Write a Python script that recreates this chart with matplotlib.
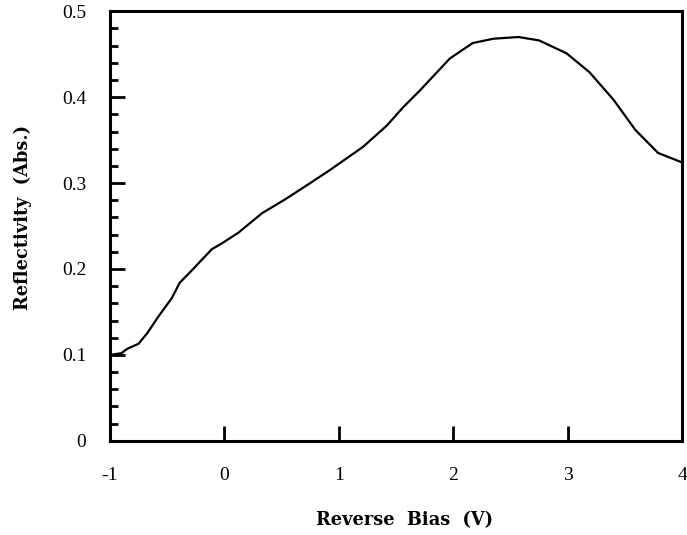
import numpy as np
import matplotlib
matplotlib.use('Agg')
import matplotlib.pyplot as plt
from matplotlib.ticker import MultipleLocator

# values
bias = [-1.00, -0.90, -0.85, -0.75, -0.67, -0.58, -0.46, -0.39, -0.28,
        -0.11, -0.02, 0.12, 0.33, 0.53, 0.75, 0.92, 1.21, 1.42, 1.56,
        1.71, 1.97, 2.17, 2.35, 2.57, 2.75, 2.99, 3.19, 3.40, 3.59,
        3.79, 4.00]
reflectivity = [0.100, 0.102, 0.107, 0.113, 0.126, 0.144, 0.166, 0.184,
                0.199, 0.223, 0.230, 0.242, 0.265, 0.281, 0.300, 0.315,
                0.342, 0.367, 0.388, 0.408, 0.445, 0.463, 0.468, 0.470,
                0.466, 0.451, 0.429, 0.397, 0.362, 0.335, 0.324]

xticks = [-1, 0, 1, 2, 3, 4]
yticks = [0, 0.1, 0.2, 0.3, 0.4, 0.5]
yticklabels = ['0', '0.1', '0.2', '0.3', '0.4', '0.5']

plt.rcParams['font.family'] = ['Liberation Serif', 'DejaVu Serif']

fig = plt.figure(figsize=(6.87, 5.35), dpi=100)
ax = fig.add_axes([0.160, 0.176, 0.833, 0.803])

ax.plot(bias, reflectivity, color='black', lw=1.6)

ax.set_xlim(-1, 4)
ax.set_ylim(0, 0.5)
ax.set_xticks(xticks)
ax.set_xticklabels([str(t) for t in xticks])
ax.set_yticks(yticks)
ax.set_yticklabels(yticklabels)
ax.yaxis.set_minor_locator(MultipleLocator(0.02))

for s in ax.spines.values():
    s.set_linewidth(2.2)

ax.tick_params(axis='both', which='major', direction='in', length=11,
               width=2, labelsize=14)
ax.tick_params(axis='y', which='major', pad=17)
ax.tick_params(axis='x', which='major', pad=19)
ax.tick_params(axis='y', which='minor', direction='in', length=6, width=2)

lab_font = dict(family=['DejaVu Serif'], fontsize=12.8, fontweight='bold')
ax.set_xlabel('Reverse  Bias  (V)', **lab_font)
ax.set_ylabel('Reflectivity  (Abs.)', **lab_font)
ax.xaxis.set_label_coords(0.514, -0.163)
ax.yaxis.set_label_coords(-0.136, 0.519)

plt.savefig('out.png', dpi=100)
